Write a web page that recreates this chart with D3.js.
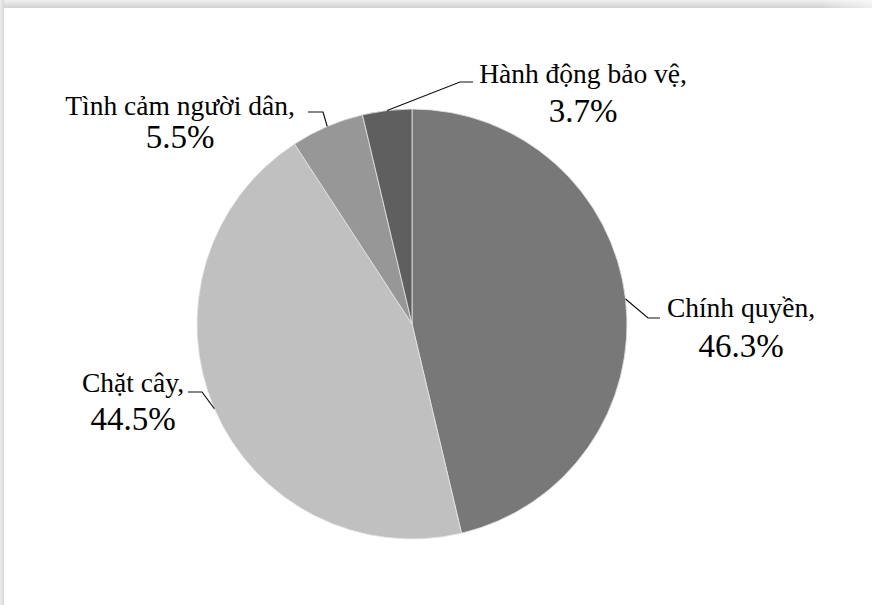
<!DOCTYPE html>
<html>
<head>
<meta charset="utf-8">
<script src="https://cdn.jsdelivr.net/npm/d3@7"></script>
<style>
  html, body { margin: 0; padding: 0; background: #fff; }
  svg { display: block; }
</style>
</head>
<body>
<svg id="chart" width="872" height="605"></svg>
<script>
// ---- data ----
const categories = ["Chính quyền", "Chặt cây", "Tình cảm người dân", "Hành động bảo vệ"];
const values = [46.3, 44.5, 5.5, 3.7];
const colors = ["#787878", "#c0c0c0", "#979797", "#5f5f5f"];

// ---- layout ----
const W = 872, H = 605;
const cx = 412, cy = 324, R = 215;
const FONT = "'Liberation Serif', serif";
const labelLayout = [
  { elbow: [648, 318], end: [660, 318], tx: 741, ny: 317, py: 357 },
  { elbow: [202, 392], end: [188, 392], tx: 133, ny: 392, py: 430 },
  { elbow: [323, 112], end: [308, 112], tx: 180, ny: 115, py: 148 },
  { elbow: [460, 82],  end: [473, 82],  tx: 583, ny: 83,  py: 122 }
];

const svg = d3.select("#chart");

// frame shadow
const defs = svg.append("defs");
const gTop = defs.append("linearGradient").attr("id", "gTop").attr("x1", 0).attr("y1", 0).attr("x2", 0).attr("y2", 1);
gTop.append("stop").attr("offset", "0%").attr("stop-color", "#f0f0f0");
gTop.append("stop").attr("offset", "100%").attr("stop-color", "#d2d2d2");
const gLeft = defs.append("linearGradient").attr("id", "gLeft").attr("x1", 0).attr("y1", 0).attr("x2", 1).attr("y2", 0);
gLeft.append("stop").attr("offset", "0%").attr("stop-color", "#eeeeee");
gLeft.append("stop").attr("offset", "100%").attr("stop-color", "#d6d6d6");
const gFade = defs.append("linearGradient").attr("id", "gFade").attr("x1", 0).attr("y1", 0).attr("x2", 1).attr("y2", 0);
gFade.append("stop").attr("offset", "0%").attr("stop-color", "#fff").attr("stop-opacity", 0);
gFade.append("stop").attr("offset", "100%").attr("stop-color", "#fff").attr("stop-opacity", 0.6);

svg.append("rect").attr("x", 0).attr("y", 0).attr("width", W).attr("height", 8).attr("fill", "url(#gTop)");
svg.append("rect").attr("x", 0).attr("y", 0).attr("width", 4).attr("height", H).attr("fill", "url(#gLeft)");
svg.append("rect").attr("x", 820).attr("y", 0).attr("width", 52).attr("height", 8).attr("fill", "url(#gFade)");

// pie
const data = categories.map((c, i) => ({ name: c, value: values[i], color: colors[i] }));
const pie = d3.pie().value(d => d.value).sort(null).startAngle(0).endAngle(2 * Math.PI);
const arc = d3.arc().innerRadius(0).outerRadius(R);
const arcs = pie(data);

const g = svg.append("g").attr("transform", `translate(${cx},${cy})`);
g.selectAll("path.slice")
  .data(arcs)
  .enter().append("path")
  .attr("class", "slice")
  .attr("d", arc)
  .attr("fill", d => d.data.color)
  .attr("stroke", "#e6e6e6")
  .attr("stroke-width", 0.8);

// leader lines & labels
arcs.forEach((a, i) => {
  const mid = (a.startAngle + a.endAngle) / 2;
  const px = cx + R * Math.sin(mid);
  const py = cy - R * Math.cos(mid);
  const L = labelLayout[i];
  svg.append("polyline")
    .attr("points", [[px, py], L.elbow, L.end].map(p => p.join(",")).join(" "))
    .attr("fill", "none")
    .attr("stroke", "#111")
    .attr("stroke-width", 1.2);
  svg.append("text")
    .attr("x", L.tx).attr("y", L.ny)
    .attr("text-anchor", "middle")
    .style("font-family", FONT)
    .style("font-size", "27.5px")
    .style("fill", "#000")
    .text(a.data.name + ",");
  svg.append("text")
    .attr("x", L.tx).attr("y", L.py)
    .attr("text-anchor", "middle")
    .style("font-family", FONT)
    .style("font-size", "33px")
    .style("fill", "#000")
    .text(d3.format(".1f")(a.data.value) + "%");
});
</script>
</body>
</html>
